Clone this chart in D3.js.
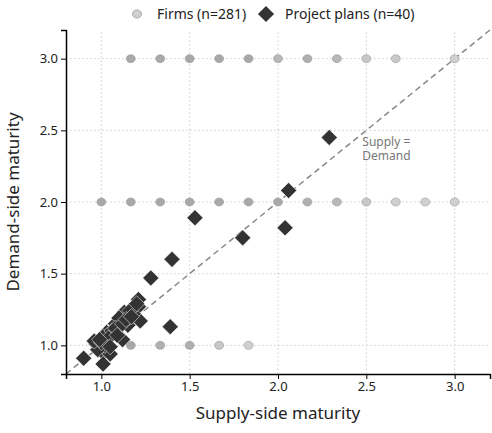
<!DOCTYPE html>
<html><head><meta charset="utf-8">
<script src="https://cdn.jsdelivr.net/npm/d3@7"></script>
<style>body{margin:0;background:#fff;font-family:"Noto Sans",sans-serif;}</style>
</head><body><div id="chart"></div>
<script>
const ticks = [1.0, 1.5, 2.0, 2.5, 3.0];
// firm dots: x positions per demand row, with a shade per dot
const firmX3 = [7/6, 8/6, 9/6, 10/6, 11/6, 2, 13/6, 14/6, 15/6, 16/6, 3];
const firmX2 = [1, 7/6, 8/6, 9/6, 10/6, 11/6, 2, 13/6, 14/6, 15/6, 16/6, 17/6, 3];
const firmX1 = [7/6, 8/6, 9/6, 10/6, 11/6];
const firmShade3 = [0.55, 0.55, 0.55, 0.55, 0.55, 0.45, 0.5, 0.45, 0.35, 0.35, 0.3];
const firmShade2 = [0.55, 0.55, 0.55, 0.55, 0.55, 0.55, 0.55, 0.5, 0.45, 0.35, 0.3, 0.3, 0.3];
const firmShade1 = [0.55, 0.5, 0.5, 0.35, 0.3];
const planSupply = [2.29, 2.06, 2.04, 1.80, 1.53, 1.40, 1.28, 1.39, 1.21, 1.21, 1.13, 1.15, 1.22, 1.08, 1.03, 1.01, 1.12, 0.97, 1.00, 1.01, 1.05, 0.90, 1.01,
  1.18, 1.10, 1.06, 1.16, 1.02, 0.98, 1.08, 1.12, 1.20, 0.96, 1.04, 1.14, 1.09, 1.00, 1.17, 1.05, 0.99];
const planDemand = [2.45, 2.08, 1.82, 1.75, 1.89, 1.60, 1.47, 1.13, 1.32, 1.27, 1.23, 1.14, 1.17, 1.15, 1.09, 1.06, 1.04, 1.01, 0.98, 0.95, 0.94, 0.91, 0.87,
  1.22, 1.19, 1.10, 1.24, 1.00, 0.97, 1.12, 1.15, 1.29, 1.03, 1.05, 1.18, 1.07, 1.02, 1.20, 0.99, 1.04];

const W = 492, H = 433;
const m = {left: 66, right: 2, top: 30, bottom: 59};
const svg = d3.select("#chart").append("svg").attr("width", W).attr("height", H);
const x = d3.scaleLinear().domain([0.8, 3.2]).range([m.left, W - m.right]);
const y = d3.scaleLinear().domain([0.8, 3.2]).range([H - m.bottom, m.top]);

// grid
svg.append("g").selectAll("line").data(ticks).join("line")
  .attr("x1", d => x(d)).attr("x2", d => x(d)).attr("y1", y(0.8)).attr("y2", y(3.2))
  .attr("stroke", "#ccc").attr("stroke-dasharray", "1.5,2.5");
svg.append("g").selectAll("line").data(ticks).join("line")
  .attr("y1", d => y(d)).attr("y2", d => y(d)).attr("x1", x(0.8)).attr("x2", x(3.2))
  .attr("stroke", "#ccc").attr("stroke-dasharray", "1.5,2.5");

// diagonal
svg.append("line").attr("x1", x(0.8)).attr("y1", y(0.8)).attr("x2", x(3.2)).attr("y2", y(3.2))
  .attr("stroke", "#888").attr("stroke-width", 1.5).attr("stroke-dasharray", "6,4");
svg.append("text").attr("y", y(2.5) + 16).attr("fill", "#777").attr("font-size", 12)
  .selectAll("tspan").data(["Supply =", "Demand"]).join("tspan")
  .attr("x", x(2.5) - 4).attr("dy", (d, i) => i ? 14 : 0).text(d => d);

// firms
const firms = [];
firmX3.forEach((v, i) => firms.push([v, 3, firmShade3[i]]));
firmX2.forEach((v, i) => firms.push([v, 2, firmShade2[i]]));
firmX1.forEach((v, i) => firms.push([v, 1, firmShade1[i]]));
const grey = d3.scaleLinear().domain([0.3, 0.55]).range(["#d0d0d0", "#a8a8a8"]);
svg.append("g").selectAll("ellipse").data(firms).join("ellipse")
  .attr("cx", d => x(d[0])).attr("cy", d => y(d[1])).attr("rx", 4.5).attr("ry", 4)
  .attr("fill", d => grey(d[2])).attr("stroke", "#999").attr("stroke-width", 0.6);

// plans
const diamond = d3.symbol().type(d3.symbolSquare).size(130);
svg.append("g").selectAll("path").data(planSupply).join("path")
  .attr("d", diamond)
  .attr("transform", (d, i) => `translate(${x(d)},${y(planDemand[i])}) rotate(45)`)
  .attr("fill", "#333").attr("stroke", "#fff").attr("stroke-width", 0.5);

// axes
const ax = svg.append("g").attr("transform", `translate(0,${H - m.bottom})`)
  .call(d3.axisBottom(x).tickValues(ticks).tickFormat(d3.format(".1f")).tickSize(5));
const ay = svg.append("g").attr("transform", `translate(${m.left},0)`)
  .call(d3.axisLeft(y).tickValues(ticks).tickFormat(d3.format(".1f")).tickSize(5));
[ax, ay].forEach(a => {
  a.selectAll("text").attr("font-size", 13).attr("font-family", "Noto Sans").attr("fill", "#222");
  a.select(".domain").attr("stroke-width", 1.5);
});

svg.append("text").attr("x", x(2)).attr("y", H - 14).attr("text-anchor", "middle")
  .attr("font-size", 17).attr("fill", "#222").text("Supply-side maturity");
svg.append("text").attr("transform", `translate(19,${y(2)}) rotate(-90)`).attr("text-anchor", "middle")
  .attr("font-size", 17).attr("fill", "#222").text("Demand-side maturity");

// legend
const lg = svg.append("g").attr("transform", "translate(137,14)");
lg.append("ellipse").attr("cx", 0).attr("cy", 0).attr("rx", 4.5).attr("ry", 4).attr("fill", "#d0d0d0").attr("stroke", "#aaa");
lg.append("text").attr("x", 20).attr("y", 5).attr("font-size", 14).attr("fill", "#222").text("Firms (n=281)");
lg.append("path").attr("d", diamond).attr("transform", "translate(129,0) rotate(45)").attr("fill", "#333");
lg.append("text").attr("x", 148).attr("y", 5).attr("font-size", 14).attr("fill", "#222").text("Project plans (n=40)");
</script></body></html>
